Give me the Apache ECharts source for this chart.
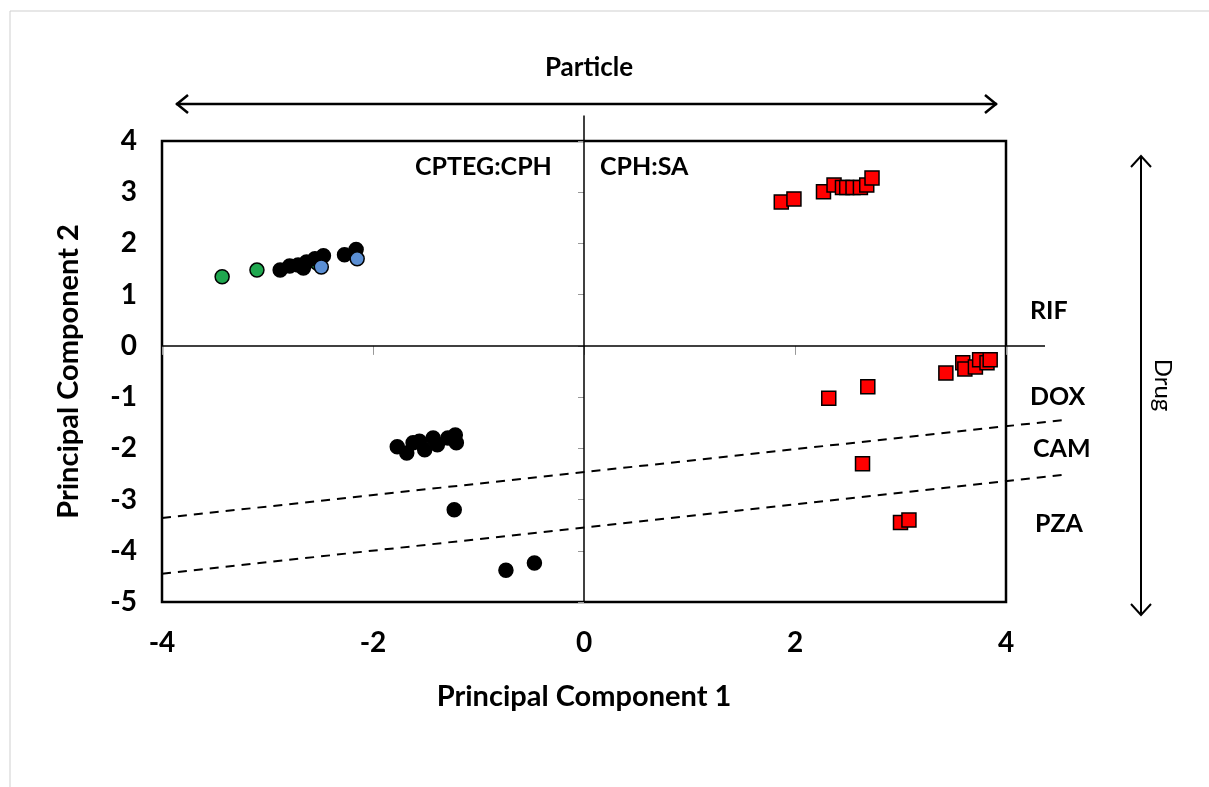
<!DOCTYPE html>
<html>
<head>
<meta charset="utf-8">
<title>PCA scores</title>
<script src="https://cdn.jsdelivr.net/npm/echarts@6/dist/echarts.min.js"></script>
<style>
  html, body { margin: 0; padding: 0; background: #fff; }
  #chart { width: 1209px; height: 787px; }
</style>
</head>
<body>
<div id="chart"></div>
<script>
// PCA scores: [PC1, PC2]
const cptegGreen = [[-3.43, 1.35], [-3.10, 1.48], [-2.53, 1.62]];
const cptegBlack = [
  [-2.88, 1.48], [-2.79, 1.56], [-2.71, 1.58], [-2.66, 1.52], [-2.63, 1.64],
  [-2.55, 1.70], [-2.47, 1.76], [-2.27, 1.78], [-2.16, 1.88],
  [-1.77, -1.97], [-1.68, -2.09], [-1.62, -1.89], [-1.56, -1.86], [-1.51, -2.03],
  [-1.43, -1.80], [-1.39, -1.93], [-1.29, -1.80], [-1.22, -1.74], [-1.21, -1.89],
  [-1.23, -3.20], [-0.74, -4.38], [-0.47, -4.24]
];
const cptegBlue = [[-2.49, 1.54], [-2.15, 1.70]];
const cphSaRed = [
  [1.87, 2.81], [1.99, 2.87], [2.27, 3.01], [2.37, 3.14], [2.45, 3.09],
  [2.49, 3.09], [2.55, 3.09], [2.62, 3.09], [2.68, 3.14], [2.73, 3.28],
  [2.32, -1.02], [2.69, -0.80], [3.43, -0.53], [3.59, -0.33], [3.61, -0.45],
  [3.71, -0.41], [3.75, -0.27], [3.82, -0.33], [3.85, -0.27],
  [2.64, -2.30], [3.00, -3.45], [3.08, -3.40]
];

// quadrant lines and drug-group separators, in PC units
const zeroLineV = [[0, -5], [0, 4.5]];
const zeroLineH = [[-4, 0], [4.37, 0]];
const separatorUpper = [[-4, -3.36], [4.53, -1.45]];
const separatorLower = [[-4, -4.45], [4.53, -2.52]];

const xTicks = [-4, 4, 2];  // min, max, interval
const yTicks = [-5, 4, 1];

const FONT = 'Lato';
const chart = echarts.init(document.getElementById('chart'));

function pts(data, symbol, color, z) {
  return {
    type: 'scatter', data: data, symbol: symbol, symbolSize: 14, z: z,
    animation: false,
    itemStyle: { color: color, borderColor: '#000', borderWidth: 1.5, opacity: 1 }
  };
}

const txt = (x, y, s, extra) => ({
  type: 'text', x: x, y: y,
  style: Object.assign({ text: s, fontFamily: FONT, fontSize: 25, fontWeight: 'bold',
    fill: '#000', textVerticalAlign: 'middle' }, extra || {})
});

const labelFont = { fontFamily: FONT, fontSize: 28, fontWeight: 'bold', color: '#000' };
const nameFont = { fontFamily: FONT, fontSize: 29, fontWeight: 'bold', color: '#000' };

chart.setOption({
  backgroundColor: '#fff',
  animation: false,
  grid: { left: 162, top: 141, right: 203, bottom: 185, show: true,
          borderColor: '#000', borderWidth: 2.5, backgroundColor: 'transparent' },
  xAxis: {
    type: 'value', min: xTicks[0], max: xTicks[1], interval: xTicks[2],
    name: 'Principal Component 1', nameLocation: 'middle', nameGap: 80,
    nameTextStyle: nameFont,
    axisLine: { show: false },
    axisTick: { show: true, length: 9, lineStyle: { color: '#999', width: 1 } },
    splitLine: { show: false },
    axisLabel: Object.assign({ margin: 27 }, labelFont)
  },
  yAxis: {
    type: 'value', min: yTicks[0], max: yTicks[1], interval: yTicks[2],
    name: 'Principal Component 2', nameLocation: 'middle', nameGap: 79,
    nameTextStyle: nameFont,
    axisLine: { show: false },
    axisTick: { show: true, length: 6, lineStyle: { color: '#999', width: 1 } },
    splitLine: { show: false },
    axisLabel: Object.assign({ margin: 25 }, labelFont)
  },
  series: [
    pts(cptegGreen, 'circle', '#1fa74f', 3),
    pts(cptegBlack, 'circle', '#000000', 4),
    pts(cptegBlue, 'circle', '#5b8fd4', 5),
    pts(cphSaRed, 'rect', '#ff0000', 6)
  ]
});

// reference lines placed through the grid's own scales
const toPx = p => chart.convertToPixel({ gridIndex: 0 }, p);
function refLine(pair, dashed) {
  const a = toPx(pair[0]), b = toPx(pair[1]);
  return {
    type: 'line', z: 1, silent: true,
    shape: { x1: a[0], y1: a[1], x2: b[0], y2: b[1] },
    style: dashed
      ? { stroke: '#000', lineWidth: 2, lineDash: [9, 7] }
      : { stroke: '#000', lineWidth: 1.5 }
  };
}

chart.setOption({
  graphic: [
    { type: 'rect', shape: { x: 10, y: 11, width: 1400, height: 1000 },
      style: { fill: 'none', stroke: '#cfcfcf', lineWidth: 1 }, silent: true },
    refLine(zeroLineV, false),
    refLine(zeroLineH, false),
    refLine(separatorUpper, true),
    refLine(separatorLower, true),
    // Particle arrow
    { type: 'line', shape: { x1: 176, y1: 104, x2: 997, y2: 104 },
      style: { stroke: '#000', lineWidth: 2.5 } },
    { type: 'polyline', shape: { points: [[188, 95], [177, 104], [188, 113]] },
      style: { stroke: '#000', lineWidth: 2.5, fill: 'none' } },
    { type: 'polyline', shape: { points: [[985, 95], [996, 104], [985, 113]] },
      style: { stroke: '#000', lineWidth: 2.5, fill: 'none' } },
    txt(589, 68, 'Particle', { textAlign: 'center', fontSize: 26 }),
    // Drug arrow
    { type: 'line', shape: { x1: 1141, y1: 156, x2: 1141, y2: 615 },
      style: { stroke: '#000', lineWidth: 2 } },
    { type: 'polyline', shape: { points: [[1131, 167], [1141, 156], [1151, 167]] },
      style: { stroke: '#000', lineWidth: 2, fill: 'none' } },
    { type: 'polyline', shape: { points: [[1131, 604], [1141, 615], [1151, 604]] },
      style: { stroke: '#000', lineWidth: 2, fill: 'none' } },
    { type: 'text', x: 1163, y: 385, rotation: -Math.PI / 2,
      style: { text: 'Drug', fontFamily: FONT, fontSize: 24, fontWeight: 'normal', fill: '#000',
               textAlign: 'center', textVerticalAlign: 'middle' } },
    // group labels
    txt(415, 167, 'CPTEG:CPH'),
    txt(600, 167, 'CPH:SA'),
    txt(1030, 311, 'RIF'),
    txt(1030, 397, 'DOX'),
    txt(1033, 449, 'CAM'),
    txt(1035, 524, 'PZA')
  ]
});
</script>
</body>
</html>
